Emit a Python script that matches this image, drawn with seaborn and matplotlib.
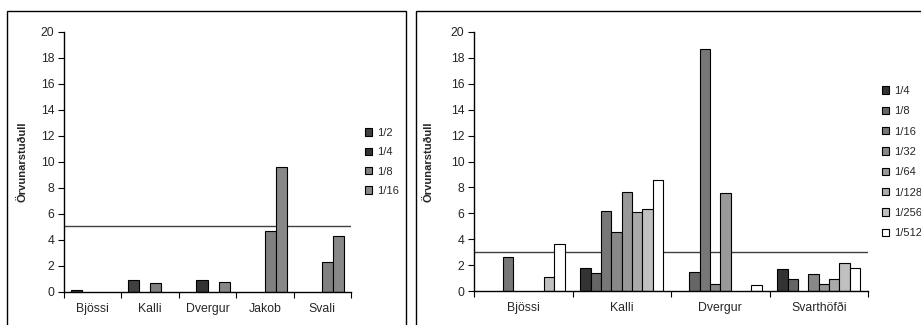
import numpy as np
import pandas as pd
import matplotlib
matplotlib.use("Agg")
import matplotlib.pyplot as plt
import matplotlib.patches as mpatches
import seaborn as sns

# Left panel: four dilutions per sample
groups_left = ["Bjössi", "Kalli", "Dvergur", "Jakob", "Svali"]
dil_left = ["1/2", "1/4", "1/8", "1/16"]
val_1_2 = [0.18, 0.95, np.nan, np.nan, np.nan]
val_1_4 = [np.nan, np.nan, 0.90, np.nan, np.nan]
val_1_8 = [np.nan, 0.72, np.nan, 4.70, 2.30]
val_1_16 = [np.nan, np.nan, 0.75, 9.60, 4.30]
cutoff_left = 5.1

# Right panel: eight dilutions per sample
groups_right = ["Bjössi", "Kalli", "Dvergur", "Svarthöfði"]
dil_right = ["1/4", "1/8", "1/16", "1/32", "1/64", "1/128", "1/256", "1/512"]
r_1_4 = [np.nan, 1.80, np.nan, 1.72]
r_1_8 = [np.nan, 1.39, 1.44, 0.90]
r_1_16 = [2.60, 6.18, 18.66, np.nan]
r_1_32 = [np.nan, 4.56, 0.51, 1.29]
r_1_64 = [np.nan, 7.67, 7.60, 0.51]
r_1_128 = [np.nan, 6.13, np.nan, 0.90]
r_1_256 = [1.10, 6.33, np.nan, 2.16]
r_1_512 = [3.63, 8.57, 0.49, 1.80]
cutoff_right = 3.05

ylabel = "Örvunarstuðull"
yticks = list(range(0, 21, 2))

pal_left = ["#404040", "#333333", "#808080", "#888888"]
pal_right = ["#333333", "#666666", "#777777", "#888888",
             "#999999", "#aaaaaa", "#c0c0c0", "#ffffff"]


def long_frame(groups, dils, series):
    rows = []
    for d, vals in zip(dils, series):
        for g, v in zip(groups, vals):
            rows.append({"group": g, "dilution": d, "value": v})
    return pd.DataFrame(rows).dropna()


df_left = long_frame(groups_left, dil_left, [val_1_2, val_1_4, val_1_8, val_1_16])
df_right = long_frame(groups_right, dil_right,
                      [r_1_4, r_1_8, r_1_16, r_1_32, r_1_64, r_1_128, r_1_256, r_1_512])

sns.set_theme(style="white")
plt.rcParams["font.family"] = ["Liberation Sans", "DejaVu Sans"]

W, H = 921, 325
fig = plt.figure(figsize=(W / 100, H / 100), dpi=100)


def fx(px):
    return px / W


def fy(py):
    return 1 - py / H


# Panel frames
for x0, x1 in [(7, 406), (416, 930)]:
    fig.add_artist(mpatches.Rectangle((fx(x0), -0.1), fx(x1 - x0), fy(11) + 0.1,
                                      transform=fig.transFigure, fill=False,
                                      edgecolor="black", linewidth=1.0, clip_on=False))

ax1 = fig.add_axes([fx(64), fy(292), fx(351 - 64), fy(32) - fy(292)])
ax2 = fig.add_axes([fx(474), fy(291), fx(868 - 474), fy(32) - fy(291)])


def draw(ax, df, groups, dils, pal, width, cutoff, label_x, leg_x, leg_y, spacing):
    sns.barplot(data=df, x="group", y="value", hue="dilution", order=groups,
                hue_order=dils, palette=pal, width=width, errorbar=None,
                edgecolor="black", linewidth=0.8, saturation=1, ax=ax)
    handles, labels = ax.get_legend_handles_labels()
    if ax.get_legend() is not None:
        ax.get_legend().remove()
    n = len(groups)
    ax.set_xlim(-0.5, n - 0.5)
    ax.set_ylim(0, 20)
    ax.set_yticks(yticks)
    ax.axhline(cutoff, color="#404040", linewidth=1.0, zorder=0.5)
    for s in ["top", "right"]:
        ax.spines[s].set_visible(False)
    for s in ["left", "bottom"]:
        ax.spines[s].set_color("black")
        ax.spines[s].set_linewidth(1.0)
    ax.tick_params(axis="y", direction="out", length=4, width=0.8, color="black",
                   labelsize=8.8, pad=3, left=True)
    ax.tick_params(axis="x", which="major", length=0, labelsize=8.8, pad=8)
    ax.set_xticks(np.arange(-0.5, n, 1.0), minor=True)
    ax.tick_params(axis="x", which="minor", direction="out", length=4, width=0.8,
                   color="black", bottom=True)
    ax.set_xlabel("")
    ax.set_ylabel(ylabel, fontsize=8, fontweight="bold")
    ax.yaxis.set_label_coords(label_x, 0.5)
    ax.patch.set_alpha(0)
    fig.legend(handles, labels, loc="upper left",
               bbox_to_anchor=(fx(leg_x), fy(leg_y)), bbox_transform=fig.transFigure,
               frameon=False, fontsize=8, handlelength=0.65, handleheight=0.65,
               handletextpad=0.4, labelspacing=spacing, borderpad=0,
               borderaxespad=0)


draw(ax1, df_left, groups_left, dil_left, pal_left, 0.77, cutoff_left,
     (27 - 64) / 287, 365, 128, 0.84)
draw(ax2, df_right, groups_right, dil_right, pal_right, 0.84, cutoff_right,
     (433 - 474) / 394, 882, 86, 0.93)

fig.savefig("out.png", dpi=100)
